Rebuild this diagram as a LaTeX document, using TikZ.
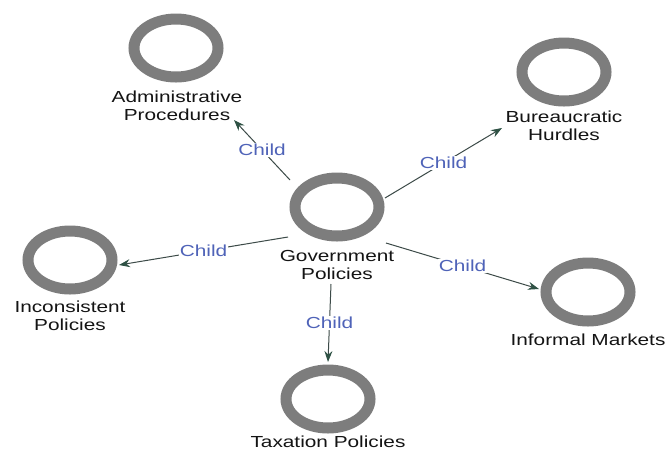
\documentclass[tikz,border=0pt]{standalone}
\usepackage{fontspec}
\setmainfont[FakeStretch=1.3]{Liberation Sans}
\usetikzlibrary{arrows.meta,shapes.geometric}
\definecolor{ringgray}{HTML}{7D7D7D}
\definecolor{edgecol}{HTML}{3C4A48}
\definecolor{tipcol}{HTML}{2F5245}
\definecolor{childblue}{HTML}{4F63B8}
\definecolor{txt}{HTML}{141414}
\begin{document}
\begin{tikzpicture}[x=1pt,y=-1pt,
  ring/.style={ellipse,draw=ringgray,line width=11pt,minimum width=84pt,minimum height=58pt,inner sep=0pt},
  lbl/.style={align=center,text=txt,inner sep=0pt,font=\fontsize{16}{17.5}\selectfont},
  edge/.style={draw=edgecol,line width=1pt,-{Stealth[length=11pt,width=8pt,color=tipcol]}},
  childlbl/.style={fill=white,inner sep=1pt,text=childblue,font=\fontsize{16}{17.5}\selectfont,pos=0.5}]
\useasboundingbox (0,0) rectangle (666,451);
\fill[white] (0,0) rectangle (666,451);
% nodes
\node[ring] (gov) at (337,207) {};
\node[lbl] (govl) at (337,265) {Government\\Policies};
\node[ring] (adm) at (176,48) {};
\node[lbl] (adml) at (177,106) {Administrative\\Procedures};
\node[ring] (bur) at (564,72) {};
\node[lbl] (burl) at (564,126) {Bureaucratic\\Hurdles};
\node[ring] (inc) at (70,260) {};
\node[lbl] (incl) at (70,316) {Inconsistent\\Policies};
\node[ring] (inf) at (588,292) {};
\node[lbl] (infl) at (588,340) {Informal Markets};
\node[ring] (tax) at (328,399) {};
\node[lbl] (taxl) at (328,442) {Taxation Policies};
% connector ends
\coordinate (g1) at (290,180); \coordinate (a1) at (234,120);
\coordinate (g2) at (385,198); \coordinate (b1) at (502,128);
\coordinate (g3) at (288,237); \coordinate (i1) at (119,265);
\coordinate (g4) at (386,243); \coordinate (f1) at (539,289);
\coordinate (g5) at (331,284); \coordinate (t1) at (328,362);
\draw[edge] (g1) -- node[childlbl] {Child} (a1);
\draw[edge] (g2) -- node[childlbl] {Child} (b1);
\draw[edge] (g3) -- node[childlbl] {Child} (i1);
\draw[edge] (g4) -- node[childlbl] {Child} (f1);
\draw[edge] (g5) -- node[childlbl] {Child} (t1);
\end{tikzpicture}
\end{document}
